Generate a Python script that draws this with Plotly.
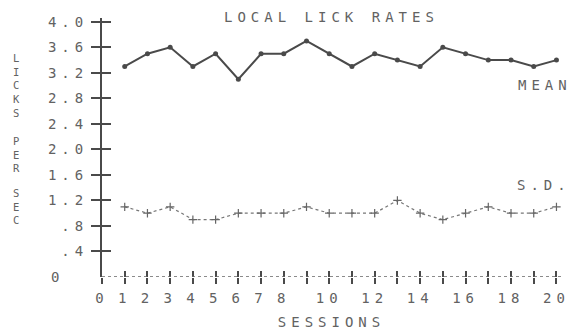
import plotly.graph_objects as go

# Local lick rates per session
sessions = list(range(1, 21))
mean_rate = [3.3, 3.5, 3.6, 3.3, 3.5, 3.1, 3.5, 3.5, 3.7, 3.5,
             3.3, 3.5, 3.4, 3.3, 3.6, 3.5, 3.4, 3.4, 3.3, 3.4]
sd_rate = [1.1, 1.0, 1.1, 0.9, 0.9, 1.0, 1.0, 1.0, 1.1, 1.0,
           1.0, 1.0, 1.2, 1.0, 0.9, 1.0, 1.1, 1.0, 1.0, 1.1]

x_tickvals = list(range(0, 21))
x_ticktext = ["0", "1", "2", "3", "4", "5", "6", "7", "8", "", "10", "",
              "12", "", "14", "", "16", "", "18", "", "20"]
y_tickvals = [0.4, 0.8, 1.2, 1.6, 2.0, 2.4, 2.8, 3.2, 3.6, 4.0]
y_ticktext = [".4", ".8", "1.2", "1.6", "2.0", "2.4", "2.8", "3.2", "3.6", "4.0"]

TXT = "#626262"
INK = "#4a4a4a"
FONT = "DejaVu Sans Mono"
FS = 14


def spaced(s, gap=5):
    return f'<span style="letter-spacing:{gap}px">{s}</span>'


XR = [0, 20.2]
YR = [0, 4.06]

fig = go.Figure()

fig.add_trace(go.Scatter(
    x=sessions, y=mean_rate, mode="lines+markers",
    line=dict(color=INK, width=2),
    marker=dict(color=INK, size=5, symbol="circle"),
    showlegend=False, hoverinfo="skip"))

fig.add_trace(go.Scatter(
    x=sessions, y=sd_rate, mode="lines+markers",
    line=dict(color="#777777", width=1.2, dash="dot"),
    marker=dict(color="#666666", size=6, symbol="cross-thin",
                line=dict(color="#666666", width=1.2)),
    showlegend=False, hoverinfo="skip"))

# companion axes that draw the inner half of each crossing tick
fig.add_trace(go.Scatter(x=[None], y=[None], xaxis="x2", yaxis="y2",
                         showlegend=False, hoverinfo="skip"))

# dotted baseline along the session axis
fig.add_shape(type="line", xref="x", yref="y", x0=0, x1=20.2, y0=0, y1=0,
              line=dict(color="#666666", width=1.5, dash="dot"))

fig.update_layout(
    width=576, height=336,
    margin=dict(l=102, r=6, t=18, b=59),
    paper_bgcolor="white", plot_bgcolor="white",
    font=dict(family=FONT, color=TXT, size=FS),
    xaxis=dict(range=XR, showgrid=False, zeroline=False, showline=False,
               tickmode="array", tickvals=x_tickvals,
               ticktext=[spaced(t, 5) if t else "" for t in x_ticktext],
               ticks="outside", ticklen=6, tickwidth=1.5, tickcolor=INK,
               tickfont=dict(family=FONT, size=FS, color=TXT),
               ticklabelstandoff=2, ticklabeloverflow="allow",
               title=dict(text=spaced("SESSIONS", 5), standoff=12,
                          font=dict(family=FONT, size=FS, color=TXT))),
    yaxis=dict(range=YR, showgrid=False, zeroline=False,
               showline=True, linecolor=INK, linewidth=2,
               tickmode="array", tickvals=y_tickvals,
               ticktext=[spaced(t, 5) for t in y_ticktext],
               ticks="outside", ticklen=9, tickwidth=1.5, tickcolor=INK,
               tickfont=dict(family=FONT, size=FS, color=TXT),
               ticklabelstandoff=0),
    xaxis2=dict(range=XR, overlaying="x", anchor="y2", side="bottom",
                showgrid=False, zeroline=False, showline=False,
                tickmode="array", tickvals=sessions, showticklabels=False,
                ticks="inside", ticklen=6, tickwidth=1.5, tickcolor=INK),
    yaxis2=dict(range=YR, overlaying="y", anchor="x2", side="left",
                showgrid=False, zeroline=False, showline=False,
                tickmode="array", tickvals=y_tickvals, showticklabels=False,
                ticks="inside", ticklen=9, tickwidth=1.5, tickcolor=INK),
)

# title
fig.add_annotation(text=spaced("LOCAL LICK RATES", 5), xref="paper", yref="paper",
                   x=0.5, y=1.0, yshift=1, xanchor="center", yanchor="middle",
                   showarrow=False, font=dict(family=FONT, size=FS, color=TXT))

# stacked vertical axis label, one letter per line
for word, ytop in (("LICKS", 50), ("PER", 133), ("SEC", 185)):
    fig.add_annotation(text="<br>".join(word), xref="paper", yref="paper",
                       x=0, xshift=-86, y=1, yshift=18 - ytop,
                       xanchor="center", yanchor="top", showarrow=False,
                       font=dict(family=FONT, size=10.5, color=TXT))

# zero label on the rate axis
fig.add_annotation(text="0", xref="paper", yref="y", x=0, xshift=-47, y=0,
                   xanchor="center", yanchor="middle", showarrow=False,
                   font=dict(family=FONT, size=FS, color=TXT))

# series labels
fig.add_annotation(text=spaced("MEAN", 5), xref="x", yref="y", x=19.5, y=3.01,
                   xanchor="center", yanchor="middle", showarrow=False,
                   font=dict(family=FONT, size=FS, color=TXT))
fig.add_annotation(text=spaced("S.D.", 5), xref="x", yref="y", x=19.45, y=1.44,
                   xanchor="center", yanchor="middle", showarrow=False,
                   font=dict(family=FONT, size=FS, color=TXT))

fig.write_html("out.html")
